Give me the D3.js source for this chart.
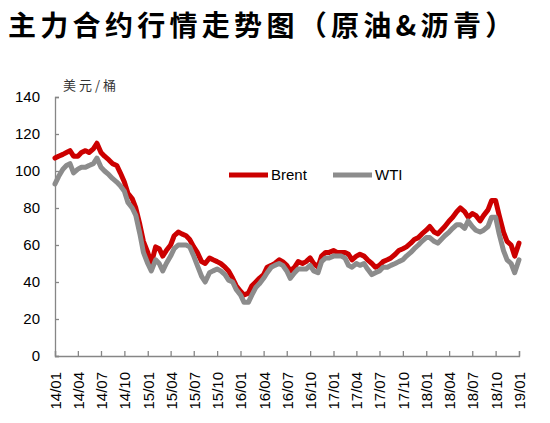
<!DOCTYPE html>
<html>
<head>
<meta charset="utf-8">
<script src="https://cdn.jsdelivr.net/npm/d3@7"></script>
<style>
  body { margin: 0; background: #fff; }
  svg { display: block; }
  .axis path, .axis line { stroke: #868686; stroke-width: 1.3; }
  .axis text { font-family: "Liberation Sans", Arial, sans-serif; font-size: 15px; fill: #000; }
</style>
</head>
<body>
<svg id="chart" width="550" height="423"></svg>
<script>
// semi-monthly readings (1st and 15th of each month), Jan 2014 .. Jan 2019, USD/bbl
const brent = [
  107, 108, 109, 110, 111, 108, 108, 110, 111, 110, 112, 115,
  110, 108, 106, 104, 103, 99, 94, 88, 85, 80, 71, 62,
  56, 50, 59, 58, 54, 57, 60, 65, 67, 66, 65, 63,
  59, 56, 51, 50, 53, 52, 51, 50, 48, 46, 42, 38,
  35, 33, 34, 38, 40, 42, 44, 48, 49, 50, 52, 51,
  49, 46, 48, 51, 50, 51, 53, 50, 48, 54, 56, 56,
  57, 56, 56, 56, 55, 52, 54, 55, 54, 52, 50, 48,
  49, 51, 52, 53, 55, 57, 58, 59, 61, 63, 64, 66,
  68, 70, 67, 66, 68, 70, 73, 75, 78, 80, 78, 75,
  77, 76, 73, 76, 79, 84, 84, 76, 67, 62, 60, 54,
  61
];
const wti = [
  93, 97, 101, 103, 104, 99, 101, 102, 102, 103, 104, 107,
  102, 100, 98, 96, 94, 92, 89, 83, 80, 76, 66, 56,
  50, 46, 52, 50, 46, 50, 54, 58, 60, 60, 60, 59,
  54, 49, 43, 40, 45, 46, 47, 46, 44, 41, 40, 36,
  33, 29, 29, 33, 37, 39, 42, 45, 48, 49, 50, 49,
  46, 42, 45, 47, 47, 47, 49, 46, 45, 51, 53, 53,
  54, 54, 54, 53, 49, 48, 50, 49, 50, 47, 44, 45,
  46, 48, 48, 49, 50, 51, 52, 54, 56, 58, 60, 62,
  64, 64, 62, 61, 63, 65, 67, 69, 71, 71, 69, 73,
  70, 68, 67, 68, 70, 75, 75, 66, 57, 52, 50, 45,
  52
];
const tickLabels = ["14/01", "14/04", "14/07", "14/10", "15/01", "15/04", "15/07", "15/10",
  "16/01", "16/04", "16/07", "16/10", "17/01", "17/04", "17/07", "17/10",
  "18/01", "18/04", "18/07", "18/10", "19/01"];
const yTicks = [0, 20, 40, 60, 80, 100, 120, 140];
const seriesNames = ["Brent", "WTI"];
const seriesColors = ["#cc0000", "#8c8c8c"];

function pointDate(i) {
  return new Date(2014, Math.floor(i / 2), i % 2 ? 15 : 1);
}
function labelDate(lbl) {
  let p = lbl.split("/");
  return new Date(2000 + (+p[0]), (+p[1]) - 1, 1);
}

function draw() {
  let svg = d3.select("#chart");
  let left = 55, right = 519, top = 97, bottom = 356;

  svg.append("text")
    .attr("x", 8)
    .attr("y", 36)
    .attr("font-family", "Noto Sans CJK SC")
    .attr("font-weight", 700)
    .attr("font-size", 28)
    .attr("letter-spacing", 4.3)
    .text("主力合约行情走势图（原油&沥青）");

  let x = d3.scaleTime()
    .domain([labelDate(tickLabels[0]), labelDate(tickLabels[tickLabels.length - 1])])
    .range([left, right]);
  let y = d3.scaleLinear().domain([0, 140]).range([bottom, top]);

  let yAxis = svg.append("g")
    .attr("class", "axis")
    .attr("transform", `translate(${left},0)`)
    .call(d3.axisRight(y).tickValues(yTicks).tickSize(4).tickFormat(d3.format("d")));
  yAxis.selectAll("text")
    .attr("x", -15)
    .attr("text-anchor", "end");

  let xAxis = svg.append("g")
    .attr("class", "axis")
    .attr("transform", `translate(0,${bottom})`)
    .call(d3.axisTop(x)
      .tickValues(tickLabels.map(labelDate))
      .tickSize(5)
      .tickFormat((d, i) => tickLabels[i]));
  xAxis.selectAll("text")
    .attr("transform", "rotate(-90)")
    .attr("x", -16)
    .attr("y", 0)
    .attr("dy", "0.36em")
    .attr("text-anchor", "end");

  svg.append("text")
    .attr("x", 63)
    .attr("y", 90)
    .attr("font-family", "Noto Sans CJK SC")
    .attr("font-size", 13)
    .attr("letter-spacing", 3)
    .attr("fill", "#333")
    .text("美元/桶");

  let line = d3.line()
    .x((d, i) => x(pointDate(i)))
    .y((d) => y(d));

  [brent, wti].forEach((s, k) => {
    svg.append("path")
      .datum(s)
      .attr("fill", "none")
      .attr("stroke", seriesColors[k])
      .attr("stroke-width", 5)
      .attr("stroke-linejoin", "round")
      .attr("stroke-linecap", "round")
      .attr("d", line);
  });

  let legend = svg.append("g")
    .selectAll("g")
    .data(seriesNames)
    .enter()
    .append("g")
    .attr("transform", (d, i) => `translate(${229 + i * 104},175)`);
  legend.append("line")
    .attr("x1", 0).attr("x2", 39)
    .attr("stroke", (d, i) => seriesColors[i])
    .attr("stroke-width", 5);
  legend.append("text")
    .attr("x", 42)
    .attr("dy", "0.36em")
    .attr("font-family", "Liberation Sans, Arial, sans-serif")
    .attr("font-size", 15)
    .text((d) => d);
}

draw();
</script>
</body>
</html>
